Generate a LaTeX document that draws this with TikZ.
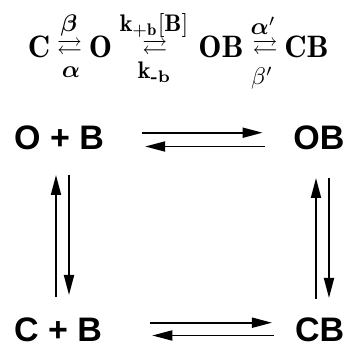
\documentclass[tikz,border=0pt]{standalone}
\usepackage{amsmath,amssymb}
\usepackage{fontspec}
\newfontfamily\statefont{Liberation Sans}
\usetikzlibrary{arrows.meta}
\tikzset{
state/.style={
inner sep=0pt,
font=\statefont\bfseries\fontsize{34}{40}\selectfont
},
species/.style={
inner sep=0pt,
anchor=base,
scale=3.1
},
rate/.style={
inner sep=0pt,
anchor=base,
scale=2.4
},
equil/.style={
inner sep=0pt,
scale=2.5
},
arrow/.style={
-{Triangle[length=20pt,width=10pt]},
line width=1.8pt
}
}
\begin{document}
\begin{tikzpicture}[x=1pt,y=1pt]
\useasboundingbox (0,0) rectangle (349,345);

% reaction scheme
\node[species](sC) at (39,287) {$\mathbf{C}$};
\node[equil](e1) at (69.5,296.5) {$\rightleftarrows$};
\node[rate](r1) at (69,313) {$\boldsymbol{\beta}$};
\node[rate](r2) at (71,267) {$\boldsymbol{\alpha}$};
\node[species](sO) at (100.5,287) {$\mathbf{O}$};
\node[equil](e2) at (155,296.5) {$\rightleftarrows$};
\node[rate](r3) at (154,313) {$\mathbf{k}_{+\mathbf{b}}[\mathbf{B}]$};
\node[rate](r4) at (154.5,266) {$\mathbf{k}_{\text{\bfseries -b}}$};
\node[species](sOB) at (221,287) {$\mathbf{OB}$};
\node[equil](e3) at (265,296.5) {$\rightleftarrows$};
\node[rate](r5) at (263,310) {$\boldsymbol{\alpha}'$};
\node[rate](r6) at (262,260) {$\beta'$};
\node[species](sCB) at (306.5,287) {$\mathbf{CB}$};

% square
\node[state,anchor=base west](opb) at (14,195) {O + B};
\node[state,anchor=base east](ob) at (344.5,195) {OB};
\node[state,anchor=base west](cpb) at (14,3.5) {C + B};
\node[state,anchor=base east](cb) at (344.5,3.5) {CB};

\draw[arrow]([shift={(38,17.3)}]opb.base east)--([shift={(-30.5,17.3)}]ob.base west);
\draw[arrow]([shift={(-27.8,3.5)}]ob.base west)--([shift={(41,3.5)}]opb.base east);
\draw[arrow]([shift={(48,18.8)}]cpb.base east)--([shift={(-23,18.8)}]cb.base west);
\draw[arrow]([shift={(-21,6)}]cb.base west)--([shift={(50,6)}]cpb.base east);
\draw[arrow]([shift={(42,44.5)}]cpb.base west)--([shift={(42,-25)}]opb.base west);
\draw[arrow]([shift={(55,-25)}]opb.base west)--([shift={(55,46.5)}]cpb.base west);
\draw[arrow]([shift={(-28.5,42.5)}]cb.base east)--([shift={(-28.5,-28)}]ob.base east);
\draw[arrow]([shift={(-15.5,-28)}]ob.base east)--([shift={(-15.5,43.5)}]cb.base east);

\end{tikzpicture}
\end{document}
